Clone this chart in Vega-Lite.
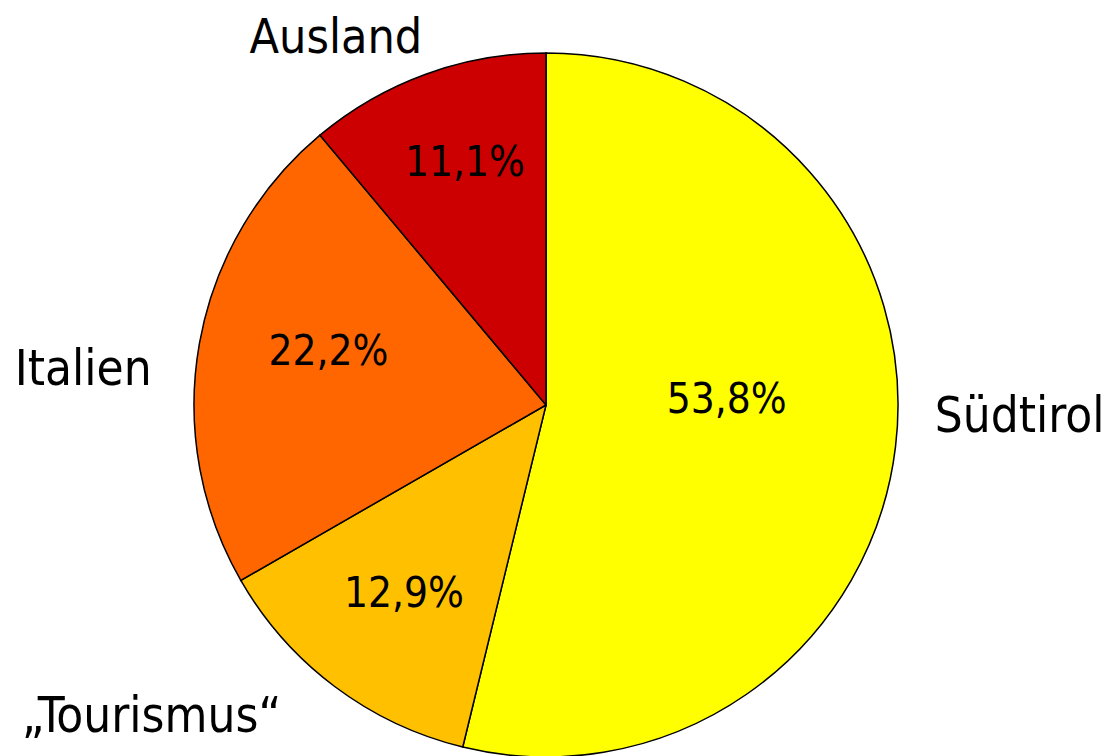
{
  "$schema": "https://vega.github.io/schema/vega-lite/v6.json",
  "width": 1092,
  "height": 702,
  "autosize": {"type": "none"},
  "padding": {"left": 0, "top": 54, "right": 21, "bottom": 0},
  "background": "white",
  "view": {"stroke": null},
  "data": {
    "values": [
      {"cat": "Südtirol", "name": "Südtirol", "share": 53.8, "pct": "53,8%", "rank": 1},
      {"cat": "Tourismus", "name": "„Tourismus“", "share": 12.9, "pct": "12,9%", "rank": 2},
      {"cat": "Italien", "name": "Italien", "share": 22.2, "pct": "22,2%", "rank": 3},
      {"cat": "Ausland", "name": "Ausland", "share": 11.1, "pct": "11,1%", "rank": 4}
    ]
  },
  "encoding": {
    "theta": {"field": "share", "type": "quantitative", "stack": true},
    "order": {"field": "rank", "type": "quantitative"}
  },
  "layer": [
    {
      "mark": {"type": "arc", "outerRadius": 352, "stroke": "black", "strokeWidth": 1.5},
      "encoding": {
        "color": {
          "field": "cat", "type": "nominal", "legend": null,
          "scale": {"domain": ["Südtirol", "Tourismus", "Italien", "Ausland"], "range": ["#FFFF00", "#FFC000", "#FF6600", "#CC0000"]}
        }
      }
    },
    {
      "mark": {"type": "text", "radius": 180, "dx": 2, "dy": -13, "align": "center", "baseline": "alphabetic", "font": "DejaVu Sans Condensed", "fontSize": 42, "color": "black"},
      "encoding": {"text": {"condition": {"test": "datum.cat === 'Südtirol'", "field": "pct"}, "value": ""}}
    },
    {
      "mark": {"type": "text", "radius": 235, "dx": -1, "dy": 14, "align": "center", "baseline": "alphabetic", "font": "DejaVu Sans Condensed", "fontSize": 42, "color": "black"},
      "encoding": {"text": {"condition": {"test": "datum.cat === 'Tourismus'", "field": "pct"}, "value": ""}}
    },
    {
      "mark": {"type": "text", "radius": 225, "dx": 4, "dy": -1, "align": "center", "baseline": "alphabetic", "font": "DejaVu Sans Condensed", "fontSize": 42, "color": "black"},
      "encoding": {"text": {"condition": {"test": "datum.cat === 'Italien'", "field": "pct"}, "value": ""}}
    },
    {
      "mark": {"type": "text", "radius": 240, "dx": 1, "dy": -3, "align": "center", "baseline": "alphabetic", "font": "DejaVu Sans Condensed", "fontSize": 42, "color": "black"},
      "encoding": {"text": {"condition": {"test": "datum.cat === 'Ausland'", "field": "pct"}, "value": ""}}
    },
    {
      "mark": {"type": "text", "radius": 475, "dx": 2, "dy": -30, "align": "center", "baseline": "alphabetic", "font": "DejaVu Sans Condensed", "fontSize": 49, "color": "black"},
      "encoding": {"text": {"condition": {"test": "datum.cat === 'Südtirol'", "field": "name"}, "value": ""}}
    },
    {
      "mark": {"type": "text", "radius": 409, "dx": -149, "dy": 0, "align": "center", "baseline": "alphabetic", "font": "DejaVu Sans Condensed", "fontSize": 49, "color": "black"},
      "encoding": {"text": {"condition": {"test": "datum.cat === 'Tourismus'", "field": "name"}, "value": ""}}
    },
    {
      "mark": {"type": "text", "radius": 470, "dx": 0, "dy": 62, "align": "center", "baseline": "alphabetic", "font": "DejaVu Sans Condensed", "fontSize": 49, "color": "black"},
      "encoding": {"text": {"condition": {"test": "datum.cat === 'Italien'", "field": "name"}, "value": ""}}
    },
    {
      "mark": {"type": "text", "radius": 375, "dx": -82, "dy": 0, "align": "center", "baseline": "alphabetic", "font": "DejaVu Sans Condensed", "fontSize": 48, "color": "black"},
      "encoding": {"text": {"condition": {"test": "datum.cat === 'Ausland'", "field": "name"}, "value": ""}}
    }
  ]
}
